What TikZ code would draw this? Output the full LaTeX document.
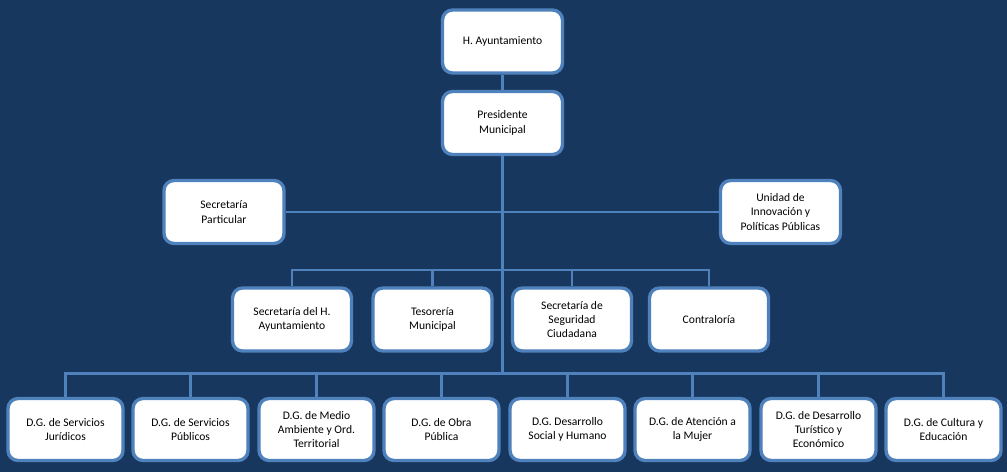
\documentclass[tikz,border=0pt]{standalone}
\usepackage{fontspec}
\setmainfont{Carlito}
\usepackage{xcolor}
\usepackage{tikz}
\definecolor{BG}{HTML}{17375E}
\definecolor{EDGE}{HTML}{4F81BD}
\tikzset{
  orgbox/.style={draw=EDGE, line width=1.9pt, fill=white, rounded corners=0.2cm, align=center,
    minimum width=2.38cm, minimum height=1.26cm, text=black, font=\fontsize{6.6}{8.2}\selectfont},
  dgbox/.style={orgbox, minimum width=2.30cm, minimum height=1.24cm},
  link/.style={draw=EDGE, line width=1.4pt}
}

\begin{document}
\begin{tikzpicture}%
\fill[BG] (0,0) rectangle (20.14,-9.44);%
\useasboundingbox (0,0) rectangle (20.14,-9.44);%
% top
\node[orgbox, minimum width=2.40cm] (hay) at (10.05,-0.83) {H. Ayuntamiento};%
\node[orgbox, minimum width=2.40cm] (pres) at (10.05,-2.46) {Presidente\\Municipal};%
\node[orgbox, minimum width=2.40cm] (spart) at (4.48,-4.24) {Secretaría\\Particular};%
\node[orgbox, minimum width=2.40cm] (unidad) at (15.61,-4.24) {Unidad de\\Innovación y\\Políticas Públicas};%
% secretarias
\node[orgbox] (sha) at (5.84,-6.39) {Secretaría del H.\\Ayuntamiento};%
\node[orgbox] (tes) at (8.65,-6.39) {Tesorería\\Municipal};%
\node[orgbox] (ssc) at (11.44,-6.39) {Secretaría de\\Seguridad\\Ciudadana};%
\node[orgbox] (cont) at (14.18,-6.39) {Contraloría};%
% direcciones generales
\node[dgbox] (dgsj) at (1.31,-8.59) {D.G. de Servicios\\Jurídicos};%
\node[dgbox] (dgsp) at (3.81,-8.59) {D.G. de Servicios\\Públicos};%
\node[dgbox] (dgma) at (6.33,-8.59) {D.G. de Medio\\Ambiente y Ord.\\Territorial};%
\node[dgbox] (dgop) at (8.83,-8.59) {D.G. de Obra\\Pública};%
\node[dgbox] (dgds) at (11.35,-8.59) {D.G. Desarrollo\\Social y Humano};%
\node[dgbox] (dgam) at (13.85,-8.59) {D.G. de Atención a\\la Mujer};%
\node[dgbox] (dgte) at (16.37,-8.59) {D.G. de Desarrollo\\Turístico y\\Económico};%
\node[dgbox] (dgce) at (18.87,-8.59) {D.G. de Cultura y\\Educación};%
% lines
\coordinate (bus3) at (10.05,-5.40);%
\coordinate (bus4) at (10.05,-7.47);%
\draw[link] (hay) -- (pres);%
\draw[link] (spart) -- (unidad);%
\draw[link] (pres.south) -- (bus4);%
\foreach \n in {sha,tes,ssc,cont} {\draw[link] (bus3) -| (\n.north);}%
\foreach \n in {dgsj,dgsp,dgma,dgop,dgds,dgam,dgte,dgce} {\draw[link] (bus4) -| (\n.north);}%
\end{tikzpicture}
\end{document}
